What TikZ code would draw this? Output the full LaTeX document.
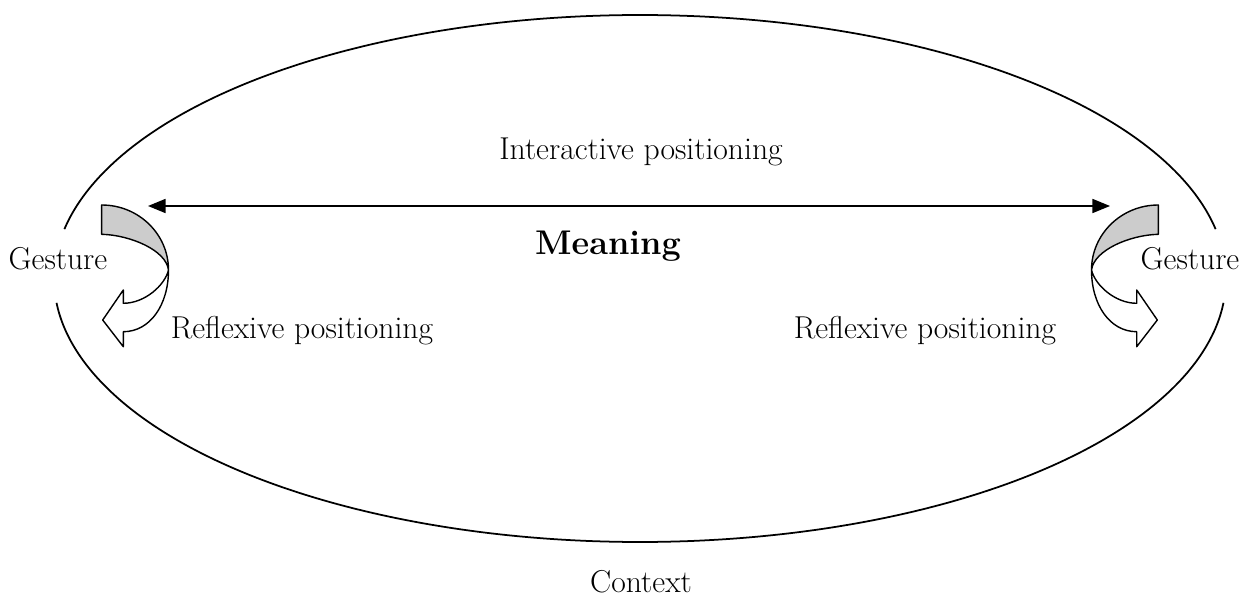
\documentclass[tikz,border=0pt]{standalone}
\usepackage{fontspec}
\usepackage{tikz}
\usetikzlibrary{arrows.meta}

\begin{document}
\begin{tikzpicture}[
    x=0.02cm,
    y=-0.02cm,
    label text/.style={
      font=\fontsize{18}{21}\selectfont,
      inner sep=0pt},
    context line/.style={
      line width=1pt},
    ribbon back/.style={
      fill=gray!40,
      draw,
      line width=.8pt,
      line join=round},
    ribbon front/.style={
      fill=white,
      draw,
      line width=.8pt,
      line join=round},
    gesturearrow/.pic={
      \filldraw[ribbon back] (101.7,205) -- (101.7,234.3)
        .. controls (130,235) and (166,250) .. (168.5,270)
        .. controls (168.5,234) and (138.5,205) .. cycle;
      \filldraw[ribbon front] (168.5,270)
        .. controls (165,285) and (145,303.3) .. (123.3,303.3)
        -- (123.3,290) -- (102.7,320) -- (123.3,346.7) -- (123.3,331.7)
        .. controls (150,331.7) and (168.5,305) .. cycle;
    },
  ]
  \useasboundingbox (0,0) rectangle (1250,608);

  % context
  \draw[context line] plot[domain=190.8:349.2, samples=120, smooth]
    ({640+586*cos(\x)}, {278.5+263.5*sin(\x)});
  \draw[context line] plot[domain=5.3:174.7, samples=120, smooth]
    ({640+586*cos(\x)}, {278.5+263.5*sin(\x)});

  % gestures
  \pic at (0,0) {gesturearrow};
  \pic[xscale=-1] at (1260,0) {gesturearrow};

  \node[label text] (interactive) at (641,152) {Interactive positioning};
  \node[label text, font=\fontsize{19.5}{22}\selectfont\bfseries] (meaning) at (608,246) {Meaning};
  \node[label text] (gestureL) at (58,259) {Gesture};
  \node[label text] (gestureR) at (1190,259) {Gesture};
  \node[label text] (reflexiveL) at (302,331) {Reflexive positioning};
  \node[label text] (reflexiveR) at (925,331) {Reflexive positioning};
  \node[label text] (context) at (641,582) {Context};

  \coordinate (ileft) at (148,206);
  \coordinate (iright) at (1110,206);
  \draw[{Triangle[length=10pt,width=8pt]}-{Triangle[length=10pt,width=8pt]}, line width=.8pt]
    (ileft) -- (iright);
\end{tikzpicture}
\end{document}
